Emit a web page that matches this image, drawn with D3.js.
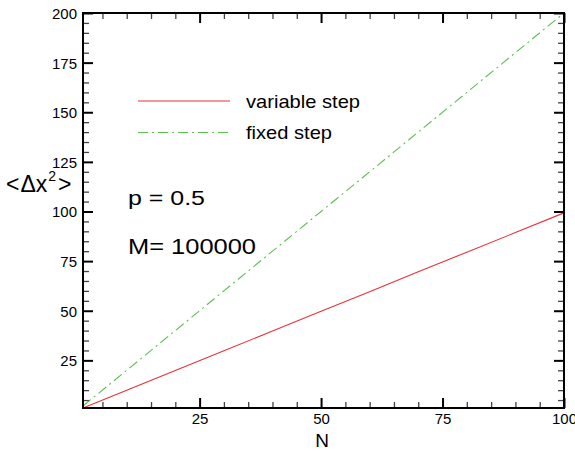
<!DOCTYPE html>
<html>
<head>
<meta charset="utf-8">
<script src="https://cdn.jsdelivr.net/npm/d3@7"></script>
<style>
  html, body { margin: 0; padding: 0; background: #fff; }
  svg { display: block; font-family: "Liberation Sans", Arial, Helvetica, sans-serif; }
</style>
</head>
<body>
<svg id="chart" width="575" height="451"></svg>
<script>
// Mean squared displacement <Δx²> versus number of steps N
const stepsN        = [1, 10, 20, 30, 40, 50, 60, 70, 80, 90, 100];
const variableStep  = [1, 10, 19.9, 29.8, 39.8, 49.7, 59.6, 69.6, 79.5, 89.4, 99.3];
const fixedStep     = [2, 20, 40, 60, 80, 100, 120, 140, 160, 180, 200];
const xMajorTicks   = [25, 50, 75, 100];
const yMajorTicks   = [25, 50, 75, 100, 125, 150, 175, 200];
const legendLabels  = ["variable step", "fixed step"];
const noteLines     = ["p = 0.5", "M= 100000"];

const svg = d3.select("#chart");
const m = { left: 83, right: 564, top: 13, bottom: 408 };

const x = d3.scaleLinear().domain([1, 100]).range([m.left, m.right]);
const y = d3.scaleLinear().domain([1, 200]).range([m.bottom, m.top]);

const xMinor = d3.range(5, 100, 5).filter(v => !xMajorTicks.includes(v));
const yMinor = d3.range(5, 200, 5).filter(v => !yMajorTicks.includes(v));

const majorLen = 10, minorLen = 6;

// Axes: bottom/left carry labels, top/right mirror the ticks; all ticks point inward
function drawAxis(gen, transform, ticks, len, labels, cls) {
  const g = svg.append("g").attr("class", cls).attr("transform", transform)
    .call(gen.tickValues(ticks).tickSizeInner(-len).tickSizeOuter(0)
      .tickFormat(labels ? d3.format("d") : ""));
  g.select(".domain").remove();
  return g;
}

const axes = [
  { gen: () => d3.axisBottom(x), t: `translate(0,${m.bottom})`, major: xMajorTicks, minor: xMinor, lab: "x" },
  { gen: () => d3.axisTop(x),    t: `translate(0,${m.top})`,    major: xMajorTicks, minor: xMinor, lab: null },
  { gen: () => d3.axisLeft(y),   t: `translate(${m.left},0)`,   major: yMajorTicks, minor: yMinor, lab: "y" },
  { gen: () => d3.axisRight(y),  t: `translate(${m.right},0)`,  major: yMajorTicks, minor: yMinor, lab: null }
];

axes.forEach(a => {
  const gMin = drawAxis(a.gen(), a.t, a.minor, minorLen, false, "minor");
  gMin.selectAll("line").attr("stroke", "#444").attr("stroke-width", 1.3);
  const gMaj = drawAxis(a.gen(), a.t, a.major, majorLen, !!a.lab, "major");
  gMaj.selectAll("line").attr("stroke", "#000").attr("stroke-width", 2);
  const labels = gMaj.selectAll("text").attr("fill", "#000").style("font-size", "15px")
    .style("font-family", "'Liberation Sans', Arial, sans-serif");
  // tick labels sit just outside the frame
  if (a.lab === "x") labels.attr("y", 5).attr("dy", "0.71em");
  if (a.lab === "y") labels.attr("x", -6).attr("dy", "0.36em");
});

// Data lines
const line = d3.line().x((d, i) => x(stepsN[i])).y(d => y(d));

svg.append("path").datum(variableStep)
  .attr("d", line).attr("fill", "none")
  .attr("stroke", "#e3323b").attr("stroke-width", 1.1);

svg.append("path").datum(fixedStep)
  .attr("d", line).attr("fill", "none")
  .attr("stroke", "#5bbf4f").attr("stroke-width", 1.1)
  .attr("stroke-dasharray", "10,4,2,4");

// Frame
svg.append("rect")
  .attr("x", m.left).attr("y", m.top)
  .attr("width", m.right - m.left).attr("height", m.bottom - m.top)
  .attr("fill", "none").attr("stroke", "#000").attr("stroke-width", 2);

// Legend
const legend = [
  { label: legendLabels[0], color: "#e3323b", dash: null, ly: 101, len: 114 },
  { label: legendLabels[1], color: "#5bbf4f", dash: "10,4,2,4", ly: 132.5, len: 86 }
];
legend.forEach(l => {
  svg.append("line").attr("x1", 138).attr("x2", 230).attr("y1", l.ly).attr("y2", l.ly)
    .attr("stroke", l.color).attr("stroke-width", 1.1)
    .attr("stroke-dasharray", l.dash);
  svg.append("text").attr("x", 246).attr("y", l.ly + 6.5)
    .attr("textLength", l.len).attr("lengthAdjust", "spacingAndGlyphs")
    .style("font-size", "19px").attr("fill", "#000").text(l.label);
});

// Annotations
svg.append("text").attr("x", 128).attr("y", 205).style("font-size", "20px")
  .attr("textLength", 77).attr("lengthAdjust", "spacingAndGlyphs").text(noteLines[0]);
svg.append("text").attr("x", 128).attr("y", 254).style("font-size", "21.5px")
  .attr("textLength", 128).attr("lengthAdjust", "spacingAndGlyphs").text(noteLines[1]);

// Axis titles
svg.append("text").attr("x", 322).attr("y", 447).attr("text-anchor", "middle")
  .style("font-size", "19px").text("N");

const yt = svg.append("text").attr("x", 6).attr("y", 192).style("font-size", "23px");
yt.append("tspan").text("<");
yt.append("tspan").attr("dx", 1).text("Δx");
yt.append("tspan").attr("dy", -11).attr("dx", 1).style("font-size", "14px").text("2");
yt.append("tspan").attr("dy", 11).attr("dx", 2).text(">");
</script>
</body>
</html>
